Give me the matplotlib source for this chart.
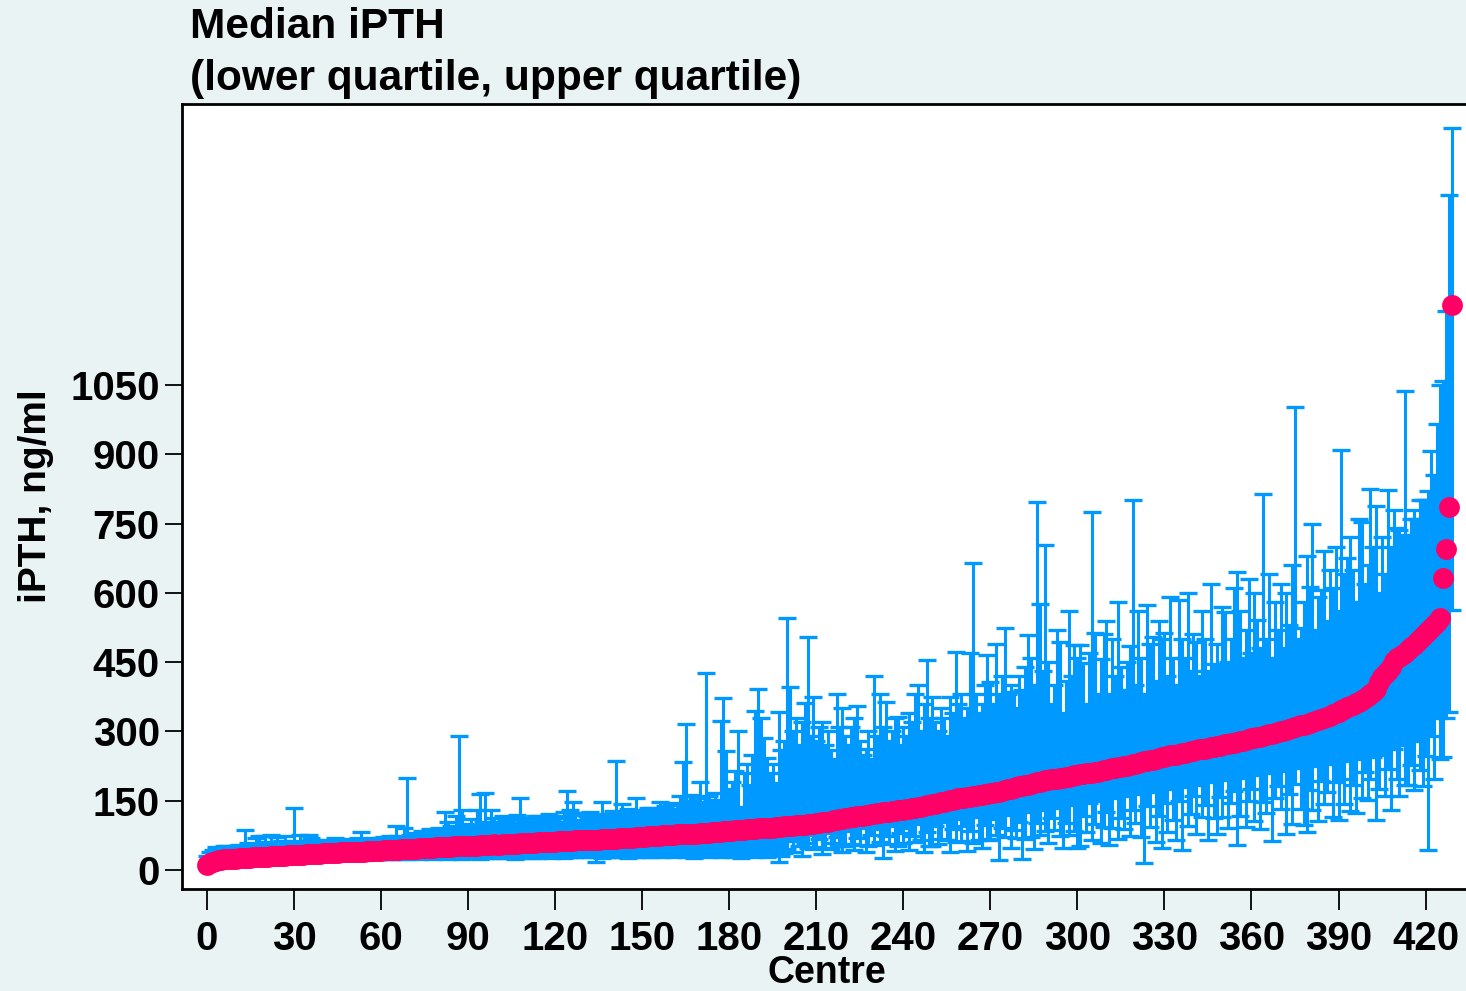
import numpy as np
import matplotlib
matplotlib.use("Agg")
import matplotlib.pyplot as plt

# median iPTH per centre (sorted)
median_ipth = [
    11, 15, 18, 20, 21, 22, 23, 24, 24, 25,
    25, 26, 26, 27, 27, 27, 28, 28, 28, 29,
    29, 29, 30, 30, 30, 31, 31, 31, 32, 32,
    32, 33, 33, 33, 34, 34, 34, 35, 35, 35,
    36, 36, 36, 37, 37, 37, 38, 38, 38, 39,
    39, 39, 40, 40, 40, 41, 41, 41, 42, 42,
    42, 43, 43, 43, 44, 44, 44, 45, 45, 45,
    46, 46, 46, 47, 47, 47, 48, 48, 48, 49,
    49, 49, 50, 50, 50, 51, 51, 51, 52, 52,
    52, 53, 53, 53, 54, 54, 55, 55, 55, 56,
    55, 55, 56, 56, 56, 57, 57, 57, 58, 58,
    58, 59, 59, 59, 60, 60, 60, 61, 61, 61,
    61, 62, 62, 62, 63, 63, 63, 64, 64, 64,
    65, 65, 65, 66, 66, 66, 67, 67, 67, 68,
    68, 68, 69, 69, 69, 70, 70, 70, 71, 71,
    72, 72, 73, 73, 73, 74, 74, 75, 75, 75,
    76, 76, 77, 77, 77, 78, 78, 79, 79, 79,
    80, 80, 81, 81, 82, 82, 83, 83, 84, 84,
    85, 85, 86, 86, 87, 87, 88, 88, 89, 89,
    90, 90, 91, 91, 92, 92, 93, 94, 94, 95,
    95, 96, 96, 97, 97, 98, 98, 99, 99, 100,
    101, 102, 103, 104, 105, 107, 108, 109, 110, 111,
    112, 113, 114, 115, 116, 117, 118, 119, 120, 121,
    122, 123, 124, 125, 126, 126, 127, 128, 129, 130,
    131, 132, 133, 134, 135, 136, 137, 139, 140, 141,
    143, 144, 145, 147, 148, 149, 151, 152, 153, 155,
    156, 157, 158, 159, 160, 161, 162, 163, 164, 165,
    166, 167, 169, 170, 172, 173, 175, 176, 178, 179,
    181, 182, 184, 185, 187, 188, 190, 191, 193, 194,
    195, 196, 197, 198, 199, 200, 201, 202, 203, 205,
    206, 207, 208, 209, 210, 211, 212, 213, 215, 216,
    217, 218, 220, 221, 222, 224, 225, 226, 228, 229,
    230, 232, 233, 235, 236, 238, 239, 241, 242, 244,
    245, 246, 248, 249, 250, 252, 253, 254, 256, 257,
    258, 259, 261, 262, 263, 264, 266, 267, 268, 269,
    271, 272, 273, 275, 276, 277, 279, 280, 282, 283,
    285, 286, 288, 289, 291, 292, 294, 295, 297, 298,
    300, 302, 303, 305, 307, 309, 311, 313, 315, 317,
    319, 321, 323, 325, 327, 329, 331, 334, 337, 340,
    343, 346, 349, 352, 355, 358, 361, 364, 368, 372,
    376, 380, 385, 392, 408, 418, 425, 430, 440, 452,
    458, 462, 465, 470, 476, 482, 488, 494, 500, 506,
    512, 518, 524, 530, 536, 545, 632, 695, 786, 1223,
]

lower_q = [
    5, 8, 10, 11, 12, 12, 13, 14, 13, 15,
    14, 15, 16, 15, 16, 17, 16, 17, 18, 17,
    18, 17, 19, 18, 19, 20, 18, 20, 19, 21,
    20, 21, 19, 22, 20, 21, 22, 20, 23, 21,
    22, 23, 21, 24, 22, 23, 25, 22, 24, 23,
    25, 23, 24, 26, 22, 25, 24, 26, 23, 25,
    26, 24, 27, 25, 23, 26, 28, 24, 27, 25,
    27, 26, 28, 25, 29, 27, 26, 28, 24, 27,
    28, 26, 29, 25, 27, 30, 26, 28, 25, 29,
    27, 30, 26, 28, 25, 29, 27, 31, 26, 28,
    30, 27, 29, 26, 31, 28, 25, 30, 27, 29,
    28, 31, 26, 30, 27, 29, 32, 28, 30, 26,
    31, 28, 30, 27, 32, 29, 31, 28, 30, 33,
    29, 31, 28, 32, 18, 30, 27, 33, 29, 31,
    30, 28, 32, 29, 31, 27, 33, 30, 28, 32,
    31, 29, 33, 28, 32, 30, 34, 29, 31, 33,
    32, 28, 34, 30, 33, 29, 35, 31, 27, 33,
    34, 30, 32, 28, 35, 31, 33, 29, 34, 30,
    33, 29, 35, 31, 27, 34, 30, 36, 32, 28,
    35, 31, 33, 29, 36, 32, 34, 18, 30, 37,
    45, 62, 40, 70, 52, 30, 58, 47, 75, 46,
    50, 68, 35, 48, 80, 46, 58, 72, 53, 40,
    52, 85, 56, 44, 70, 54, 90, 38, 51, 76,
    55, 88, 60, 26, 73, 57, 95, 42, 52, 80,
    58, 92, 44, 74, 60, 100, 66, 38, 82, 53,
    51, 96, 56, 68, 105, 65, 40, 88, 60, 110,
    62, 95, 42, 84, 58, 115, 66, 48, 98, 68,
    64, 110, 76, 22, 92, 72, 120, 48, 86, 70,
    104, 24, 68, 125, 72, 46, 102, 76, 130, 84,
    58, 112, 86, 135, 74, 48, 102, 76, 140, 84,
    47, 51, 118, 82, 145, 66, 100, 150, 58, 94,
    126, 54, 90, 155, 68, 112, 88, 160, 74, 130,
    102, 165, 72, 15, 138, 94, 170, 60, 116, 47,
    146, 82, 175, 108, 64, 150, 43, 180, 96, 122,
    160, 78, 185, 114, 140, 66, 190, 112, 79, 158,
    114, 195, 90, 146, 172, 54, 118, 200, 94, 150,
    176, 106, 205, 88, 148, 124, 210, 62, 156, 182,
    132, 215, 79, 164, 100, 186, 220, 132, 98, 83,
    174, 130, 225, 106, 192, 142, 168, 230, 114, 190,
    108, 196, 142, 235, 128, 184, 123, 240, 156, 212,
    152, 198, 244, 108, 176, 250, 160, 218, 130, 262,
    196, 160, 270, 184, 184, 228, 174, 280, 216, 182,
    246, 43, 290, 196, 330, 240, 245, 329, 342, 563,
]

upper_q = [
    30, 38, 44, 50, 46, 48, 52, 53, 47, 49,
    51, 55, 50, 87, 58, 54, 52, 70, 74, 56,
    73, 60, 76, 55, 72, 58, 62, 74, 60, 57,
    135, 62, 76, 58, 60, 75, 70, 64, 59, 61,
    63, 60, 66, 62, 70, 64, 61, 67, 63, 65,
    66, 64, 70, 83, 67, 65, 68, 66, 70, 67,
    69, 72, 68, 74, 70, 96, 73, 71, 92, 199,
    75, 80, 73, 78, 84, 76, 82, 88, 79, 85,
    90, 84, 126, 104, 95, 88, 118, 291, 130, 100,
    97, 110, 92, 130, 165, 104, 166, 98, 130, 112,
    105, 99, 118, 108, 96, 114, 102, 120, 156, 110,
    104, 112, 100, 116, 117, 108, 114, 101, 122, 110,
    112, 118, 104, 126, 171, 130, 148, 120, 109, 124,
    124, 118, 126, 112, 120, 116, 147, 108, 122, 114,
    128, 236, 125, 143, 118, 132, 120, 126, 156, 130,
    122, 128, 135, 134, 125, 130, 148, 126, 138, 132,
    145, 130, 140, 160, 234, 316, 150, 162, 142, 155,
    191, 148, 426, 160, 152, 166, 150, 323, 372, 258,
    175, 190, 215, 301, 137, 210, 230, 185, 250, 344,
    392, 329, 286, 242, 210, 230, 188, 343, 260, 280,
    545, 397, 300, 330, 270, 320, 361, 505, 290, 375,
    280, 310, 321, 270, 300, 260, 240, 382, 310, 350,
    290, 270, 310, 330, 354, 280, 250, 263, 300, 240,
    419, 290, 382, 310, 364, 280, 300, 330, 332, 270,
    310, 290, 340, 320, 382, 401, 300, 360, 454, 330,
    375, 320, 300, 350, 330, 290, 375, 340, 472, 360,
    382, 330, 350, 469, 664, 380, 340, 360, 400, 465,
    408, 360, 490, 380, 420, 523, 380, 400, 386, 350,
    420, 390, 440, 508, 460, 400, 797, 576, 430, 703,
    450, 360, 400, 520, 494, 340, 410, 560, 420, 487,
    460, 487, 449, 360, 470, 776, 512, 380, 456, 511,
    540, 380, 500, 420, 580, 440, 390, 450, 484, 801,
    400, 560, 460, 380, 573, 490, 505, 410, 540, 500,
    513, 420, 590, 460, 400, 585, 500, 458, 600, 430,
    510, 494, 420, 560, 500, 430, 620, 447, 490, 440,
    570, 559, 450, 500, 610, 646, 561, 460, 520, 630,
    470, 600, 541, 480, 814, 500, 640, 460, 581, 520,
    620, 480, 599, 530, 660, 1003, 500, 523, 580, 680,
    613, 748, 520, 590, 606, 690, 540, 650, 610, 700,
    560, 910, 640, 675, 720, 650, 580, 760, 754, 620,
    660, 824, 700, 787, 600, 720, 640, 822, 700, 780,
    740, 736, 720, 1037, 725, 760, 780, 760, 800, 801,
    801, 820, 906, 855, 966, 1049, 1059, 1210, 1460, 1606,
]

x_ticks = list(range(0, 421, 30))
y_ticks = list(range(0, 1051, 150))

bg = '#EAF3F4'
blue = '#0099FF'
pink = '#FF0066'

plt.rcParams['font.family'] = ['Liberation Sans', 'DejaVu Sans']
plt.rcParams['font.weight'] = 'bold'

fig = plt.figure(figsize=(14.66, 9.91), dpi=100, facecolor=bg)
ax = fig.add_axes([182 / 1466, 102 / 991, 1290 / 1466, 785 / 991])
ax.set_facecolor('white')

centre = np.arange(len(median_ipth))
med = np.array(median_ipth)
lo = np.array(lower_q)
hi = np.array(upper_q)

ax.errorbar(centre, med, yerr=[med - lo, hi - med], fmt='none',
            ecolor=blue, elinewidth=2.2, capsize=6.5, capthick=2.4, zorder=2)
ax.plot(centre, med, 'o', color=pink, markersize=15,
        markeredgewidth=0, zorder=3)

ax.set_xlim(-8.6, 436)
ax.set_ylim(-41, 1658)
ax.set_xticks(x_ticks)
ax.set_yticks(y_ticks)
ax.tick_params(axis='x', length=15, width=1.3, labelsize=29, pad=7)
ax.tick_params(axis='y', length=12, width=1.3, labelsize=29, pad=4)
for lab in ax.get_xticklabels() + ax.get_yticklabels():
    lab.set_fontweight('bold')
for s in ax.spines.values():
    s.set_linewidth(2)

ax.set_xlabel('Centre', fontsize=27, fontweight='bold', labelpad=-2)
ax.set_ylabel('iPTH, ng/ml', fontsize=28, fontweight='bold', labelpad=12)

fig.text(190 / 1466, 1 - 7 / 991, 'Median iPTH\n(lower quartile, upper quartile)',
         ha='left', va='top', fontsize=30.5, fontweight='bold', linespacing=1.4)

fig.savefig('out.png', dpi=100, facecolor=bg)
